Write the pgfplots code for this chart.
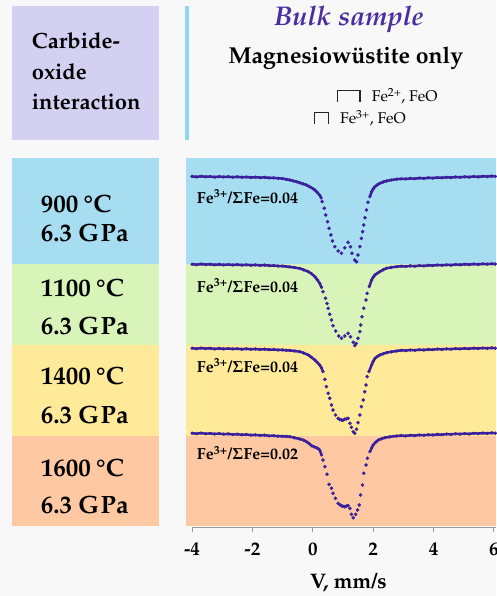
\documentclass[border=0pt]{standalone}
\usepackage[T1]{fontenc}
\usepackage{mathpazo}
\usepackage{textcomp}
\usepackage{amsmath}
\usepackage{pgfplots}
\pgfplotsset{compat=1.18}
\definecolor{bg}{HTML}{F8F8F8}
\definecolor{purplebox}{HTML}{D4D0F1}
\definecolor{bluebox}{HTML}{A6DDF1}
\definecolor{greenbox}{HTML}{D9F4B8}
\definecolor{yellowbox}{HTML}{FEEA99}
\definecolor{orangebox}{HTML}{FEC9A2}
\definecolor{cyanline}{HTML}{8FD8EC}
\definecolor{dataC}{HTML}{3B1F9C}
\definecolor{bulkC}{HTML}{4A2DA0}
\newcommand\fs[2]{\fontsize{#1}{#2}\selectfont}
\pgfplotsset{
  specline/.style={color=dataC, line width=2.5pt, mark=*, mark size=1.5pt, mark options={draw=dataC, fill=dataC, line width=0.3pt}},
  specmarks/.style={color=dataC, only marks, mark=*, mark size=1.65pt, mark options={draw=dataC, fill=dataC, line width=0.3pt}},
}
\begin{document}
\begin{tikzpicture}
\useasboundingbox (0,0) rectangle (496pt,596pt);
\fill[bg] (0,0) rectangle (496pt,596pt);
\begin{scope}[x=1pt,y=-1pt,yshift=596pt]
  % left panel
  \fill[purplebox] (12,6) rectangle (159,140);
  \fill[bluebox] (12,158) rectangle (159,264.5);
  \fill[greenbox] (12,264.5) rectangle (159,345.5);
  \fill[yellowbox] (12,345.5) rectangle (159,436.5);
  \fill[orangebox] (12,436.5) rectangle (159,526.5);
  % right bands
  \fill[cyanline] (185,6) rectangle (189,140);
  \fill[bluebox] (186,158) rectangle (496,264.5);
  \fill[greenbox] (186,264.5) rectangle (496,345.5);
  \fill[yellowbox] (186,345.5) rectangle (496,436.5);
  \fill[orangebox] (186,436.5) rectangle (496,526.5);
  % header texts
  \node[anchor=base west, inner sep=0, font=\bfseries\fs{22}{22}] at (31.7,49) {Carbide-};
  \node[anchor=base west, inner sep=0, font=\bfseries\fs{22}{22}] at (31.7,80) {oxide};
  \node[anchor=base west, inner sep=0, font=\bfseries\fs{22}{22}] at (31.7,110) {interaction};
  \node[anchor=base, inner sep=0, font=\bfseries\itshape\fs{27}{27}, text=bulkC] at (349,25.5) {Bulk sample};
  \node[anchor=base, inner sep=0, font=\bfseries\fs{23}{23}] at (345.9,63.3) {Magnesiow\"ustite only};
  \draw[line width=1.1pt, black!85] (337.3,101.7) -- (337.3,90.7) -- (360,90.7) -- (360,101.7);
  \draw[line width=1.1pt, black!85] (314.3,124) -- (314.3,112.7) -- (328.3,112.7) -- (328.3,124);
  \node[anchor=base west, inner sep=0, font=\fs{15.5}{16}] at (371.7,101.7) {Fe\textsuperscript{2+}, FeO};
  \node[anchor=base west, inner sep=0, font=\fs{15.5}{16}] at (340,124) {Fe\textsuperscript{3+}, FeO};
  % left labels
  \foreach \a/\b/\t in {213/241.7/900, 296.7/335/1100, 385/423.3/1400, 476.7/513.3/1600}{
    \node[anchor=base west, inner sep=0, font=\bfseries\fs{25}{25}] at (40.7,\a) {\t\kern0.2em\textdegree C};
    \node[anchor=base west, inner sep=0, font=\bfseries\fs{25}{25}] at (40.7,\b) {6.3 G\kern1.5pt Pa};
  }
  % ratio labels
  \foreach \y/\r in {203.3/0.04, 292.3/0.04, 372.7/0.04, 460/0.02}{
    \node[anchor=base west, inner sep=0, font=\bfseries\fs{16}{16}] at (196.7,\y) {Fe\textsuperscript{3+}/$\boldsymbol{\Sigma}$Fe=\r};
  }
  \node[anchor=base, inner sep=0, font=\bfseries\fs{21}{21}] at (348.3,588.5) {V, mm/s};
\end{scope}
\begin{axis}[
  at={(186pt,68.5pt)}, anchor=south west, scale only axis,
  width=310pt, height=369.5pt,
  xmin=-4.2, xmax=6.07, ymin=-527.5, ymax=-158,
  axis x line=bottom, axis y line=none,
  x axis line style={draw=none},
  xtick={-4,-2,0,2,4,6}, xticklabels={\textbf{-4},\textbf{-2},\textbf{0},\textbf{2},\textbf{4},\textbf{6}},
  tick align=outside, major tick length=5pt,
  xtick style={draw=gray!80, line width=0.8pt},
  xticklabel style={font=\bfseries\fs{19}{19}, text=black, yshift=-7pt},
  clip=false,
]
\draw[gray!80, line width=0.8pt] (axis cs:-4,-527.5) -- (axis cs:6.07,-527.5);
% ---- 900 C ----
\addplot[specline] coordinates {(-4.00,-176.4)(-3.85,-176.9)(-3.70,-176.3)(-3.55,-176.8)(-3.40,-176.5)(-3.25,-177.1)(-3.10,-176.6)(-2.95,-177.0)(-2.80,-176.7)(-2.65,-177.2)(-2.50,-176.8)(-2.35,-177.3)(-2.20,-177.0)(-2.05,-177.5)(-1.90,-177.2)(-1.75,-177.6)(-1.60,-177.4)(-1.45,-177.9)(-1.30,-177.8)(-1.15,-178.3)(-1.00,-178.6)(-0.88,-179.3)(-0.76,-180.0)(-0.65,-180.9)(-0.54,-181.7)(-0.43,-182.8)(-0.32,-183.9)(-0.21,-185.0)(-0.10,-186.8)(0.00,-188.5)(0.07,-190.0)(0.15,-192.4)(0.23,-195.2)(0.28,-198.0)};
\addplot[specmarks] coordinates {(0.31,-201.7)(0.38,-208.3)(0.43,-215.0)(0.49,-221.7)(0.54,-228.3)(0.60,-235.0)(0.65,-241.0)(0.73,-246.7)(0.84,-251.0)(0.95,-253.3)(1.06,-247.7)(1.17,-242.3)(1.25,-246.7)(1.30,-253.3)(1.39,-260.0)(1.45,-261.7)(1.50,-255.0)(1.56,-246.7)(1.61,-238.3)(1.65,-231.7)(1.69,-225.0)(1.73,-217.7)(1.78,-210.0)(1.83,-202.3)};
\addplot[specline] coordinates {(1.89,-196.7)(1.95,-191.7)(2.00,-189.0)(2.06,-186.7)(2.14,-184.8)(2.22,-183.3)(2.33,-182.0)(2.44,-181.0)(2.60,-180.0)(2.78,-179.2)(2.93,-178.8)(3.08,-179.0)(3.23,-178.4)(3.38,-178.7)(3.53,-178.1)(3.68,-178.4)(3.83,-177.8)(3.98,-178.1)(4.13,-177.5)(4.28,-177.8)(4.43,-177.3)(4.58,-177.6)(4.73,-177.0)(4.88,-177.3)(5.03,-176.8)(5.18,-177.1)(5.33,-176.5)(5.48,-176.9)(5.63,-176.3)(5.78,-176.6)(5.93,-176.1)(6.05,-176.4)};
% ---- 1100 C ----
\addplot[specline] coordinates {(-4.00,-264.2)(-3.85,-264.7)(-3.70,-264.1)(-3.55,-264.6)(-3.40,-264.3)(-3.25,-264.8)(-3.10,-264.4)(-2.95,-264.9)(-2.80,-264.5)(-2.65,-265.0)(-2.50,-264.6)(-2.35,-265.1)(-2.20,-264.8)(-2.05,-265.2)(-1.90,-264.9)(-1.75,-265.4)(-1.60,-265.1)(-1.45,-265.6)(-1.30,-265.5)(-1.15,-266.0)(-1.00,-266.1)(-0.88,-266.5)(-0.76,-266.9)(-0.60,-267.6)(-0.43,-268.5)(-0.30,-269.8)(-0.15,-271.7)(-0.05,-273.5)(0.07,-276.7)(0.15,-279.8)(0.23,-283.3)(0.29,-287.5)};
\addplot[specmarks] coordinates {(0.34,-291.7)(0.42,-298.3)(0.47,-303.5)(0.51,-308.3)(0.56,-314.3)(0.62,-320.0)(0.67,-325.7)(0.76,-331.0)(0.86,-336.0)(0.95,-338.3)(1.06,-336.0)(1.17,-333.3)(1.25,-336.7)(1.34,-342.3)(1.39,-345.5)(1.44,-343.5)(1.50,-338.3)(1.56,-331.7)(1.59,-325.0)(1.63,-316.7)(1.69,-308.3)(1.76,-300.0)(1.80,-293.3)};
\addplot[specline] coordinates {(1.87,-286.7)(1.95,-280.0)(2.00,-277.3)(2.06,-275.0)(2.14,-273.2)(2.22,-271.7)(2.33,-269.8)(2.44,-268.3)(2.60,-267.4)(2.78,-266.7)(2.93,-266.2)(3.08,-266.5)(3.23,-265.9)(3.38,-266.2)(3.53,-265.6)(3.68,-265.9)(3.83,-265.3)(3.98,-265.6)(4.13,-265.0)(4.28,-265.3)(4.43,-264.8)(4.58,-265.1)(4.73,-264.5)(4.88,-264.8)(5.03,-264.3)(5.18,-264.6)(5.33,-264.1)(5.48,-264.4)(5.63,-263.9)(5.78,-264.2)(5.93,-263.8)(6.05,-264.1)};
% ---- 1400 C ----
\addplot[specline] coordinates {(-4.00,-348.2)(-3.85,-348.7)(-3.70,-348.1)(-3.55,-348.6)(-3.40,-348.3)(-3.25,-348.9)(-3.10,-348.4)(-2.95,-348.9)(-2.80,-348.5)(-2.65,-349.0)(-2.50,-348.7)(-2.35,-349.2)(-2.20,-348.8)(-2.05,-349.3)(-1.90,-349.0)(-1.75,-349.5)(-1.60,-349.2)(-1.45,-349.7)(-1.30,-349.5)(-1.15,-350.0)(-1.00,-349.9)(-0.88,-350.3)(-0.76,-350.5)(-0.60,-351.0)(-0.43,-351.7)(-0.30,-353.0)(-0.15,-355.0)(-0.05,-357.2)(0.07,-360.0)(0.15,-362.5)(0.23,-365.0)(0.29,-368.0)(0.34,-371.7)};
\addplot[specmarks] coordinates {(0.40,-379.3)(0.45,-386.7)(0.51,-393.3)(0.56,-398.3)(0.62,-405.0)(0.67,-410.0)(0.75,-415.0)(0.84,-418.3)(0.89,-419.5)(0.95,-420.0)(1.00,-420.3)(1.06,-419.3)(1.12,-418.8)(1.17,-418.3)(1.23,-423.3)(1.28,-427.3)(1.34,-431.7)(1.39,-433.3)(1.45,-429.3)(1.50,-422.7)(1.56,-415.0)(1.61,-406.7)(1.67,-400.0)(1.72,-391.7)(1.76,-385.0)(1.80,-376.7)};
\addplot[specline] coordinates {(1.86,-371.7)(1.95,-365.0)(2.00,-361.5)(2.06,-358.3)(2.14,-356.5)(2.22,-355.0)(2.33,-353.8)(2.44,-352.7)(2.60,-351.8)(2.78,-351.0)(2.93,-350.3)(3.08,-350.6)(3.23,-350.0)(3.38,-350.3)(3.53,-349.7)(3.68,-350.0)(3.83,-349.4)(3.98,-349.7)(4.13,-349.1)(4.28,-349.4)(4.43,-348.9)(4.58,-349.2)(4.73,-348.6)(4.88,-348.9)(5.03,-348.4)(5.18,-348.7)(5.33,-348.2)(5.48,-348.5)(5.63,-348.0)(5.78,-348.3)(5.93,-347.9)(6.05,-348.2)};
% ---- 1600 C ----
\addplot[specline] coordinates {(-4.00,-433.2)(-3.85,-433.7)(-3.70,-433.1)(-3.55,-433.7)(-3.40,-433.4)(-3.25,-434.0)(-3.10,-433.6)(-2.95,-434.2)(-2.80,-433.9)(-2.65,-434.5)(-2.50,-434.2)(-2.35,-434.8)(-2.20,-434.5)(-2.05,-435.1)(-1.90,-434.9)(-1.75,-435.4)(-1.60,-435.2)(-1.45,-435.8)(-1.30,-435.7)(-1.15,-436.2)(-1.00,-436.3)(-0.88,-436.4)(-0.76,-436.7)(-0.60,-437.8)(-0.43,-439.0)(-0.30,-440.2)(-0.21,-441.7)(-0.12,-443.5)(-0.04,-445.7)(0.04,-446.8)(0.12,-447.7)(0.18,-448.6)(0.23,-450.0)(0.29,-455.0)};
\addplot[specmarks] coordinates {(0.34,-460.0)(0.40,-466.7)(0.47,-474.3)(0.54,-484.3)(0.62,-488.3)(0.67,-493.3)(0.75,-498.3)(0.84,-503.3)(0.90,-504.8)(0.95,-505.7)(1.00,-506.2)(1.06,-506.7)(1.12,-506.0)(1.17,-505.7)(1.23,-508.3)(1.28,-514.3)(1.34,-517.7)(1.42,-514.3)(1.48,-510.0)(1.54,-505.0)(1.58,-495.0)(1.65,-485.0)(1.69,-473.3)(1.76,-465.0)(1.81,-458.3)};
\addplot[specline] coordinates {(1.89,-451.7)(1.95,-448.0)(2.00,-445.0)(2.08,-442.3)(2.17,-440.0)(2.28,-438.8)(2.39,-437.7)(2.55,-436.8)(2.78,-436.0)(2.93,-435.6)(3.08,-435.9)(3.23,-435.3)(3.38,-435.6)(3.53,-435.0)(3.68,-435.3)(3.83,-434.7)(3.98,-435.0)(4.13,-434.4)(4.28,-434.7)(4.43,-434.1)(4.58,-434.4)(4.73,-433.8)(4.88,-434.1)(5.03,-433.6)(5.18,-433.9)(5.33,-433.3)(5.48,-433.6)(5.63,-433.1)(5.78,-433.4)(5.93,-432.9)(6.05,-433.2)};
\end{axis}
\end{tikzpicture}
\end{document}
